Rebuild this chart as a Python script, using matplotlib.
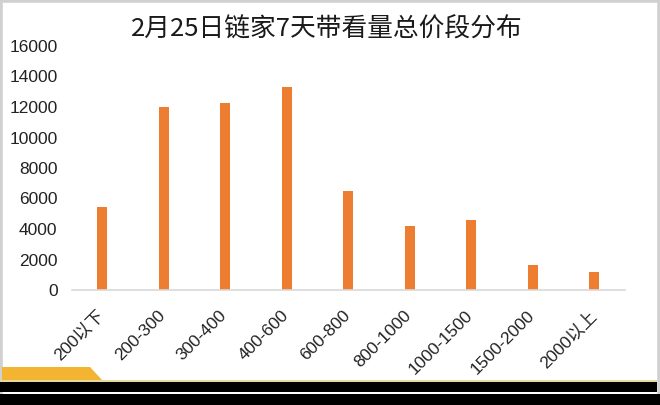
import matplotlib.pyplot as plt
import matplotlib.transforms as mtransforms
from matplotlib.patches import Rectangle, Polygon

plt.rcParams['font.family'] = ['Liberation Sans', 'Noto Sans CJK SC', 'DejaVu Sans']

# 总价段 (万元) 与 7天带看量
categories = ["200以下", "200-300", "300-400", "400-600", "600-800",
              "800-1000", "1000-1500", "1500-2000", "2000以上"]
views = [5450, 12000, 12280, 13330, 6510, 4200, 4610, 1620, 1180]
yticks = [0, 2000, 4000, 6000, 8000, 10000, 12000, 14000, 16000]

fig = plt.figure(figsize=(6.6, 4.05), dpi=100)
fig.patch.set_facecolor("white")

# cadre gris + bandeau du bas
fig.patches.append(Rectangle((0, 0), 1, 1, transform=fig.transFigure,
                             fill=False, edgecolor="#d0d0d0", linewidth=4))
fig.patches.append(Rectangle((0, 0), 1, 11 / 405, transform=fig.transFigure,
                             facecolor="black", edgecolor="none"))
fig.patches.append(Rectangle((0, 13 / 405), 657 / 660, 10 / 405, transform=fig.transFigure,
                             facecolor="black", edgecolor="none"))
fig.patches.append(Rectangle((0, 23 / 405), 657 / 660, 2 / 405, transform=fig.transFigure,
                             facecolor="#e8d9a0", edgecolor="none"))
fig.patches.append(Polygon([(2 / 660, 25 / 405), (102 / 660, 25 / 405),
                            (90 / 660, 38 / 405), (2 / 660, 38 / 405)],
                           closed=True, transform=fig.transFigure,
                           facecolor="#f2b431", edgecolor="none"))

ax = fig.add_axes([71.5 / 660, 115 / 405, 553.5 / 660, 244 / 405])
x = range(len(categories))
ax.bar(x, views, width=0.17, color="#ed7d31")

ax.set_xlim(-0.5, len(categories) - 0.5)
ax.set_ylim(0, 16000)
ax.set_yticks(yticks)
ax.set_yticklabels([str(v) for v in yticks], fontsize=12.5, color="#222222")
ax.set_xticks(list(x))
ax.set_xticklabels(categories, fontsize=12.5, color="#222222", rotation=45,
                   ha="right", rotation_mode="anchor")
ax.tick_params(axis="both", length=0)
ax.tick_params(axis="y", pad=10)
ax.tick_params(axis="x", pad=6)
# décalage des étiquettes inclinées (bas-gauche)
shift = mtransforms.ScaledTranslation(-6 / 100, -9 / 100, fig.dpi_scale_trans)
for lbl in ax.get_xticklabels():
    lbl.set_transform(lbl.get_transform() + shift)
for s in ["top", "right", "left"]:
    ax.spines[s].set_visible(False)
ax.spines["bottom"].set_color("#d9d9d9")
ax.spines["bottom"].set_linewidth(1.2)

fig.text(0.495, 0.926, "2月25日链家7天带看量总价段分布", ha="center", va="center",
         fontsize=18.5, fontweight="medium", color="#1a1a1a",
         family=["Noto Sans CJK SC", "DejaVu Sans"])

fig.savefig("out.png", dpi=100)
